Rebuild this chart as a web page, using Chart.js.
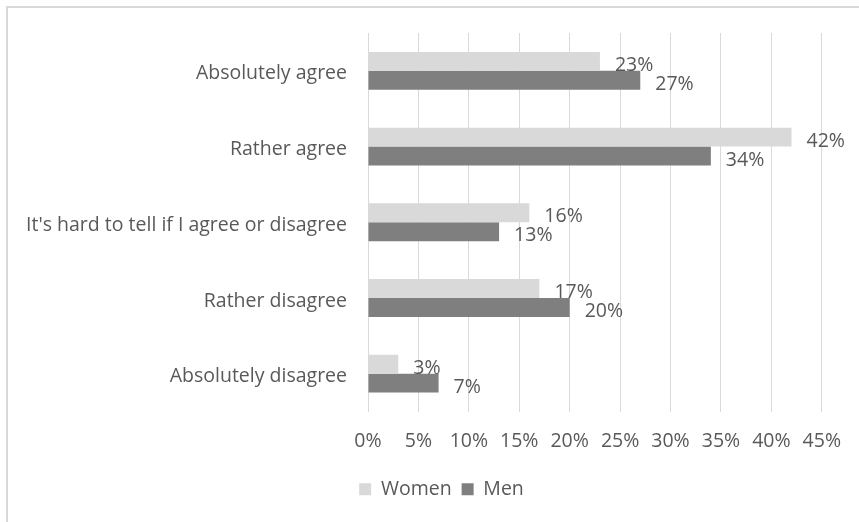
<!DOCTYPE html>
<html>
<head>
<meta charset="utf-8">
<title>Agreement by gender</title>
<script src="https://cdn.jsdelivr.net/npm/chart.js@4/dist/chart.umd.min.js"></script>
<style>
  html, body { margin: 0; padding: 0; background: #fff; overflow: hidden; }
  #wrap { position: relative; width: 859px; height: 522px; }
  #frame {
    position: absolute; left: 6px; top: 6px; width: 900px; height: 600px;
    border: 2px solid #d9d9d9; box-sizing: border-box; pointer-events: none;
  }
  #chart { position: absolute; left: 0; top: 0; }
</style>
</head>
<body>
<div id="wrap">
  <div id="frame"></div>
  <canvas id="chart" width="859" height="522"></canvas>
</div>
<script>
// answers, top to bottom
const categories = [
  'Absolutely agree',
  'Rather agree',
  "It's hard to tell if I agree or disagree",
  'Rather disagree',
  'Absolutely disagree'
];
const womenShare = [23, 42, 16, 17, 3];
const menShare = [27, 34, 13, 20, 7];
const axisMax = 45;
const axisStep = 5;

const textColor = '#595959';
const fontFamily = "'Open Sans', 'Liberation Sans', sans-serif";
const fontSize = 19.5;

// writes "NN%" just past the end of every bar
const barValueLabels = {
  id: 'barValueLabels',
  afterDatasetsDraw(chart) {
    const ctx = chart.ctx;
    ctx.save();
    ctx.fillStyle = textColor;
    ctx.font = `${fontSize}px ${fontFamily}`;
    ctx.textAlign = 'left';
    ctx.textBaseline = 'middle';
    chart.data.datasets.forEach((ds, i) => {
      const meta = chart.getDatasetMeta(i);
      meta.data.forEach((bar, j) => {
        ctx.fillText(ds.data[j] + '%', bar.x + 15, bar.y + 4);
      });
    });
    ctx.restore();
  }
};

// the legend sits a bit right of the canvas centre, under the frame's middle
const legendShift = {
  id: 'legendShift',
  afterLayout(chart) {
    const lg = chart.legend;
    if (lg) { lg.left += 25; lg.right += 25; }
  }
};

new Chart(document.getElementById('chart'), {
  type: 'bar',
  data: {
    labels: categories,
    datasets: [
      { label: 'Women', data: womenShare, backgroundColor: '#d9d9d9' },
      { label: 'Men', data: menShare, backgroundColor: '#7f7f7f' }
    ]
  },
  options: {
    indexAxis: 'y',
    responsive: false,
    animation: false,
    devicePixelRatio: 1,
    categoryPercentage: 0.5,
    barPercentage: 1.0,
    layout: { padding: { top: 33, left: 10, right: 36, bottom: 13 } },
    scales: {
      x: {
        min: 0,
        max: axisMax,
        ticks: {
          stepSize: axisStep,
          padding: 18,
          color: textColor,
          font: { family: fontFamily, size: fontSize },
          callback: v => v + '%'
        },
        grid: { color: '#d9d9d9', drawTicks: false },
        border: { display: false },
        afterFit: scale => { scale.height = 58; }
      },
      y: {
        ticks: {
          padding: 13,
          labelOffset: 3,
          color: textColor,
          font: { family: fontFamily, size: fontSize }
        },
        grid: { display: false },
        border: { display: false },
        afterFit: scale => { scale.width = 358; }
      }
    },
    plugins: {
      tooltip: { enabled: false },
      legend: {
        position: 'bottom',
        labels: {
          boxWidth: 12,
          boxHeight: 12,
          padding: 10,
          color: textColor,
          font: { family: fontFamily, size: fontSize }
        }
      }
    }
  },
  plugins: [barValueLabels, legendShift]
});
</script>
</body>
</html>
